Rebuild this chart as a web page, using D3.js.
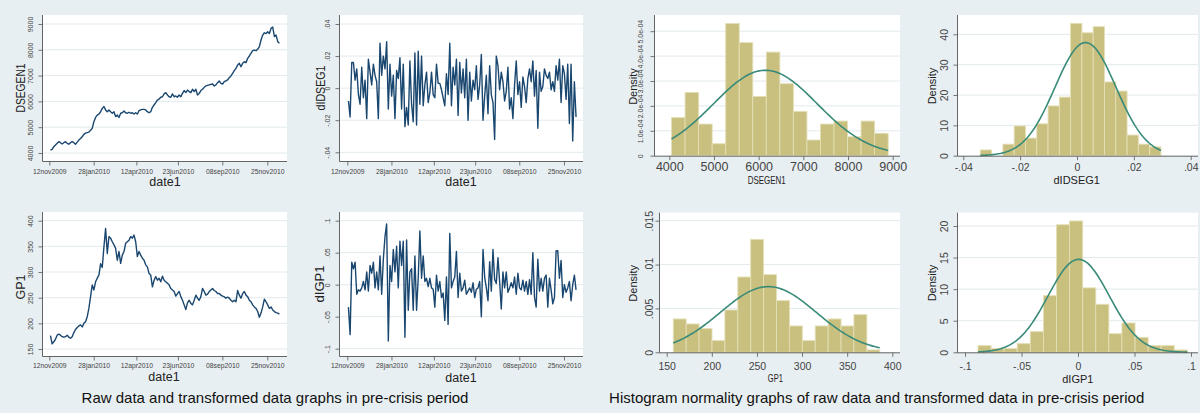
<!DOCTYPE html>
<html><head><meta charset="utf-8">
<script src="https://cdn.jsdelivr.net/npm/d3@7"></script>
<style>
html,body{margin:0;padding:0;background:#e8eff2;}
svg{display:block;font-family:"Liberation Sans",Arial,sans-serif;}
</style></head><body>
<svg id="c" width="1200" height="413"></svg>
<script>
// ---------- DATA ----------
const dateStart = "2009-11-14", dateEnd = "2010-12-16";
const timeTicks = ["2009-11-12","2010-01-28","2010-04-12","2010-06-23","2010-09-08","2010-11-25"];

const dsegen1 = [4116,4140,4245,4310,4375,4440,4400,4350,4400,4440,
4375,4340,4400,4440,4400,4335,4420,4500,4560,4630,
4720,4770,4790,4810,4880,4955,5215,5380,5470,5510,
5600,5730,5800,5670,5600,5670,5600,5540,5600,5410,
5470,5380,5540,5560,5630,5560,5540,5580,5540,5560,
5510,5560,5510,5640,5670,5690,5690,5670,5600,5560,
5600,5770,5860,5950,6050,6090,6160,6180,6290,6340,
6250,6180,6160,6290,6180,6210,6160,6250,6180,6310,
6420,6340,6440,6380,6340,6470,6380,6470,6250,6310,
6420,6470,6545,6600,6620,6640,6660,6675,6600,6640,
6725,6790,6700,6675,6765,6800,6830,6920,6985,7090,
7190,7280,7410,7475,7345,7475,7540,7500,7670,7760,
7860,7965,7990,7965,8020,8120,8380,8570,8660,8630,
8700,8630,8830,8880,8510,8570,8315,8250];

const gp1 = [176,160,164,169,177,179,177,174,173,174,
177,173,171,174,182,188,192,195,197,193,
200,203,213,229,252,275,265,281,288,294,
316,309,349,385,336,369,366,359,353,346,
323,340,317,333,340,356,359,362,369,366,
372,359,330,340,333,327,323,314,310,297,
294,271,284,291,284,288,281,292,284,281,
278,275,268,265,262,253,258,262,252,245,
236,227,240,245,239,236,245,255,249,245,
252,268,262,255,257,262,265,268,264,262,
258,258,255,253,252,249,251,249,245,242,
245,242,264,255,249,258,262,255,252,245,
242,236,232,229,223,212,220,232,247,242,
236,229,232,226,223,221,220,218];

const dIDSEG1 = [-0.008,-0.018,0.016,0.016,0.005,0.012,-0.004,-0.010,0.013,-0.006,
0.005,-0.019,0.018,0.010,0.002,0.015,0.008,0.004,-0.019,0.028,
0.008,0.020,0.012,0.029,-0.013,0.015,-0.005,0.008,-0.019,0.011,
0.006,0.019,-0.013,0.015,-0.024,-0.012,-0.023,0.017,-0.010,-0.021,
0.022,-0.023,0.023,-0.010,0.020,-0.011,0.002,0.010,-0.009,-0.003,
0.010,-0.004,-0.006,0.015,0.003,0.003,-0.001,-0.006,-0.011,0.009,
-0.004,0.028,-0.011,0.013,0.002,0.018,-0.017,0.016,-0.003,0.012,
-0.006,0.018,-0.020,0.010,-0.008,0.005,-0.001,0.014,-0.007,0.002,
0.021,-0.020,-0.005,0.008,-0.016,0.014,-0.004,-0.009,-0.032,0.020,
0.014,-0.001,0.010,0.004,-0.008,-0.002,0.013,-0.013,-0.006,-0.019,
0.002,0.017,-0.004,0.004,-0.012,0.007,0.001,-0.009,0.006,0.012,
0.004,0.017,-0.005,0.011,-0.025,0.010,-0.002,0.001,0.012,0.008,
0.006,0.010,-0.001,0.004,-0.002,0.014,0.005,0.018,-0.009,0.014,
0.009,-0.007,0.015,-0.022,0.015,-0.033,0.004,-0.018];

const dIGP1 = [-0.035,-0.078,0.035,0.025,0.035,-0.015,-0.008,-0.010,-0.005,0.005,
-0.008,0.020,-0.010,0.030,0.018,0.035,-0.005,0.020,-0.008,0.045,
-0.015,0.040,0.075,0.095,-0.088,0.030,0.005,0.055,0.020,0.060,
-0.005,0.068,0.030,0.068,-0.082,0.070,-0.040,0.020,0.025,-0.040,
0.045,-0.040,0.010,0.084,0.010,0.045,0.005,0.010,-0.003,0.010,
-0.005,-0.007,-0.035,0.015,-0.010,0.005,-0.020,-0.013,-0.056,0.012,
-0.062,0.080,-0.005,0.005,0.012,0.052,-0.020,0.018,-0.010,-0.005,
0.007,-0.015,-0.010,-0.005,-0.012,0.003,-0.020,-0.007,-0.005,0.005,
-0.050,0.055,0.012,-0.005,-0.025,0.036,-0.010,0.055,0.008,0.002,
0.042,0.005,-0.038,0.020,-0.005,0.020,-0.012,-0.005,0.003,-0.005,
0.012,-0.015,0.018,-0.005,-0.008,0.007,-0.010,0.005,-0.015,0.008,
-0.015,0.050,-0.020,-0.035,0.040,-0.010,0.010,-0.010,0.010,0.015,
-0.035,0.010,-0.008,-0.030,-0.020,0.053,0.053,0.010,0.038,-0.020,
0.000,-0.012,-0.005,0.005,-0.025,0.000,0.015,-0.008];

// y tick values and labels
const dsegen1Ticks = [4000,5000,6000,7000,8000,9000];
const dsegen1Labels = ["4000","5000","6000","7000","8000","9000"];
const dIDSEG1Ticks = [-0.04,-0.02,0,0.02,0.04];
const dIDSEG1Labels = ["-.04","-.02","0",".02",".04"];
const gp1Ticks = [150,200,250,300,350,400];
const gp1Labels = ["150","200","250","300","350","400"];
const dIGP1Ticks = [-0.1,-0.05,0,0.05,0.1];
const dIGP1Labels = ["-.1","-.05","0",".05",".1"];

// histograms: bin start, bin width, densities
const hDSEGEN1Start = 4050, hDSEGEN1Width = 303;
const hDSEGEN1Dens = [1.53e-4,2.54e-4,1.27e-4,0.48e-4,5.31e-4,4.54e-4,2.38e-4,4.16e-4,2.89e-4,1.78e-4,0.63e-4,1.27e-4,1.39e-4,0.76e-4,1.39e-4,0.90e-4];
const hDSEGEN1Normal = {mean:6150, sd:1163};
const hDSEGEN1YTicks = [0,1e-4,2e-4,3e-4,4e-4,5e-4];
const hDSEGEN1YLabels = ["0","1.0e-04","2.0e-04","3.0e-04","4.0e-04","5.0e-04"];
const hDSEGEN1XTicks = [4000,5000,6000,7000,8000,9000];

const hdIDSEG1Start = -0.034, hdIDSEG1Width = 0.00397;
const hdIDSEG1Dens = [1.9,0,3.8,9.8,5.8,10.5,16.4,19.3,43.6,40.5,42.5,24.3,21.3,6.8,3.8,2.9];
const hdIDSEG1Normal = {mean:0.003, sd:0.0107};
const hdIDSEG1YTicks = [0,10,20,30,40];
const hdIDSEG1XTicks = [-0.04,-0.02,0,0.02,0.04];
const hdIDSEG1XLabels = ["-.04","-.02","0",".02",".04"];

const hGP1Start = 157.3, hGP1Width = 14.3;
const hGP1Dens = [0.0038,0.00323,0.0027,0.00133,0.00482,0.00858,0.01287,0.00885,0.00589,0.003,0.00133,0.003,0.0038,0.003,0.00429,0.00027];
const hGP1Normal = {mean:262.6, sd:53.3};
const hGP1YTicks = [0,0.005,0.01,0.015];
const hGP1YLabels = ["0",".005",".01",".015"];
const hGP1XTicks = [150,200,250,300,350,400];

const hdIGP1Start = -0.0885, hdIGP1Width = 0.01158;
const hdIGP1Dens = [1.05,0.6,0.6,1.37,3.27,8.97,20.2,20.8,10.2,7.6,2.95,4.64,2.37,1.05,1.05,0.37];
const hdIGP1Normal = {mean:0.0006, sd:0.0271};
const hdIGP1YTicks = [0,5,10,15,20];
const hdIGP1XTicks = [-0.1,-0.05,0,0.05,0.1];
const hdIGP1XLabels = ["-.1","-.05","0",".05",".1"];

// ---------- DRAW ----------
const svg = d3.select("#c");
svg.append("rect").attr("width",1200).attr("height",413).attr("fill","#e8eff2");
const parse = d3.utcParse("%Y-%m-%d");
const fmtDate = d3.utcFormat("%d%b%Y");
const AX = "#555", GRID = "#e2eaed";

function rotLabel(g, cx, cy, text, size, len, fill) {
  const t = g.append("text").attr("transform",`translate(${cx},${cy}) rotate(-90)`)
    .attr("text-anchor","middle").attr("dy","0.35em").attr("font-size",size).attr("fill",fill||"#222").text(text);
  if (len) t.attr("textLength",len).attr("lengthAdjust","spacingAndGlyphs");
  return t;
}
function hLabel(g, cx, by, text, size, len, fill) {
  const t = g.append("text").attr("x",cx).attr("y",by).attr("text-anchor","middle")
    .attr("font-size",size).attr("fill",fill||"#222").text(text);
  if (len) t.attr("textLength",len).attr("lengthAdjust","spacingAndGlyphs");
  return t;
}

function frame(g, c, y, yTicks, grid) {
  g.append("rect").attr("x",c.px0).attr("y",c.py0).attr("width",c.px1-c.px0).attr("height",c.py1-c.py0).attr("fill","#fff");
  g.selectAll(null).data(yTicks.filter(d=>grid(d))).join("line")
    .attr("x1",c.px0).attr("x2",c.px1).attr("y1",d=>y(d)).attr("y2",d=>y(d))
    .attr("stroke",GRID).attr("stroke-width",1);
}
function axisLines(g, c) {
  g.append("line").attr("x1",c.px0-0.5).attr("x2",c.px0-0.5).attr("y1",c.py0).attr("y2",c.py1+0.5).attr("stroke",AX).attr("stroke-width",0.9);
  g.append("line").attr("x1",c.px0-0.5).attr("x2",c.px1).attr("y1",c.py1+0.5).attr("y2",c.py1+0.5).attr("stroke",AX).attr("stroke-width",0.9);
}
function yAxis(g, c, y, ticks, labels, labFont) {
  const a = g.append("g").attr("transform",`translate(${c.px0-0.5},0)`).attr("color",AX)
    .call(d3.axisLeft(y).tickValues(ticks).tickFormat((d,i)=>labels[i]).tickSize(4).tickSizeOuter(0));
  a.select(".domain").remove();
  a.selectAll(".tick line").attr("stroke-width",0.8);
  const off = (c.px0-0.5) - c.yLabX;
  a.selectAll(".tick text").attr("x",null).attr("dy",null).attr("y",null)
    .attr("transform",`translate(${-off},0) rotate(-90)`)
    .attr("dy","0.35em").attr("text-anchor","middle")
    .attr("font-size",labFont).attr("fill","#444").attr("font-family",null);
}
function xAxis(g, c, x, ticks, fmt, labFont) {
  const a = g.append("g").attr("transform",`translate(0,${c.py1+0.5})`).attr("color",AX)
    .call(d3.axisBottom(x).tickValues(ticks).tickFormat(fmt).tickSize(4).tickSizeOuter(0));
  a.select(".domain").remove();
  a.selectAll(".tick line").attr("stroke-width",0.8);
  a.selectAll(".tick text").attr("y",c.xLabBase-(c.py1+0.5)).attr("dy",null)
    .attr("font-size",labFont).attr("fill","#444").attr("font-family",null);
}

function drawTS(c) {
  const g = svg.append("g");
  const x = d3.scaleUtc().domain([parse(timeTicks[0]), parse(timeTicks[timeTicks.length-1])]).range(c.xr);
  const y = d3.scaleLinear().domain([c.yTicks[0], c.yTicks[c.yTicks.length-1]]).range(c.yr);
  frame(g, c, y, c.yTicks, ()=>true);
  const t0 = +parse(dateStart), t1 = +parse(dateEnd), n = c.values.length;
  const pts = c.values.map((v,i)=>[new Date(t0+(t1-t0)*i/(n-1)), v]);
  g.append("path").datum(pts).attr("fill","none").attr("stroke","#1a476f").attr("stroke-width",1.4)
    .attr("stroke-linejoin","round")
    .attr("d", d3.line().x(d=>x(d[0])).y(d=>y(d[1])));
  axisLines(g, c);
  yAxis(g, c, y, c.yTicks, c.yLabels, 7);
  xAxis(g, c, x, timeTicks.map(parse), d=>fmtDate(d).toLowerCase(), 6.8);
  rotLabel(g, c.yt.x, c.yt.y, c.yt.text, c.yt.size, c.yt.len);
  hLabel(g, c.xt.x, c.xt.y, "date1", 12.5);
}

function drawHist(c) {
  const g = svg.append("g");
  const x = d3.scaleLinear().domain([c.xTicks[0], c.xTicks[c.xTicks.length-1]]).range(c.xr);
  const y = d3.scaleLinear().domain([c.yTicks[0], c.yTicks[c.yTicks.length-1]]).range(c.yr);
  frame(g, c, y, c.yTicks, d=>d!==0);
  g.selectAll(null).data(c.dens).join("rect")
    .attr("x",(d,i)=>x(c.start+i*c.width))
    .attr("width",(d,i)=>x(c.start+(i+1)*c.width)-x(c.start+i*c.width))
    .attr("y",d=>y(d)).attr("height",d=>y(0)-y(d))
    .attr("fill","#c9bf7e").attr("stroke","#e4dfb6").attr("stroke-width",0.9);
  const lo = c.start, hi = c.start + c.dens.length*c.width;
  const pdf = v => Math.exp(-0.5*((v-c.normal.mean)/c.normal.sd)**2)/(c.normal.sd*Math.sqrt(2*Math.PI));
  const xs = d3.range(0,121).map(k=>lo+(hi-lo)*k/120);
  g.append("path").datum(xs).attr("fill","none").attr("stroke","#3a8b7a").attr("stroke-width",1.6)
    .attr("d", d3.line().x(v=>x(v)).y(v=>y(pdf(v))));
  axisLines(g, c);
  yAxis(g, c, y, c.yTicks, c.yLabels, c.yLabFont);
  xAxis(g, c, x, c.xTicks, (d,i)=>c.xLabels[i], c.xLabFont);
  rotLabel(g, c.dt.x, c.dt.y, "Density", 11);
  hLabel(g, c.xt.x, c.xt.y, c.xt.text, c.xt.size, c.xt.len);
}

drawTS({px0:43,px1:287,py0:15,py1:161,xr:[49.3,267.3],yr:[153,24],yTicks:dsegen1Ticks,yLabels:dsegen1Labels,values:dsegen1,
  yLabX:30.7,xLabBase:173.5,yt:{x:20,y:88,text:"DSEGEN1",size:13.5,len:49},xt:{x:165,y:186}});
drawTS({px0:340,px1:583,py0:15,py1:161,xr:[347.3,564],yr:[152.3,24],yTicks:dIDSEG1Ticks,yLabels:dIDSEG1Labels,values:dIDSEG1,
  yLabX:327.3,xLabBase:173.5,yt:{x:320,y:88,text:"dIDSEG1",size:13,len:45},xt:{x:461,y:186}});
drawTS({px0:43,px1:287,py0:212,py1:356,xr:[49.3,267.3],yr:[349,220.7],yTicks:gp1Ticks,yLabels:gp1Labels,values:gp1,
  yLabX:30.7,xLabBase:368.3,yt:{x:20,y:287,text:"GP1",size:13.5,len:25},xt:{x:164,y:381}});
drawTS({px0:340,px1:583,py0:212,py1:356,xr:[347.3,564],yr:[348.7,220.7],yTicks:dIGP1Ticks,yLabels:dIGP1Labels,values:dIGP1,
  yLabX:327.3,xLabBase:368.3,yt:{x:319.5,y:284,text:"dIGP1",size:13,len:37},xt:{x:461,y:381.5}});

drawHist({px0:655,px1:900,py0:15,py1:155.7,xr:[669.3,892.7],yr:[155.7,31.2],
  xTicks:hDSEGEN1XTicks,xLabels:hDSEGEN1XTicks.map(String),yTicks:hDSEGEN1YTicks,yLabels:hDSEGEN1YLabels,
  start:hDSEGEN1Start,width:hDSEGEN1Width,dens:hDSEGEN1Dens,normal:hDSEGEN1Normal,
  yLabX:640.5,yLabFont:7,xLabBase:170.7,xLabFont:12.5,dt:{x:633.3,y:86.5},xt:{x:766.7,y:184,text:"DSEGEN1",size:11,len:38}});
drawHist({px0:958,px1:1198,py0:15,py1:155.7,xr:[963.3,1190.7],yr:[155.7,34.3],
  xTicks:hdIDSEG1XTicks,xLabels:hdIDSEG1XLabels,yTicks:hdIDSEG1YTicks,yLabels:hdIDSEG1YTicks.map(String),
  start:hdIDSEG1Start,width:hdIDSEG1Width,dens:hdIDSEG1Dens,normal:hdIDSEG1Normal,
  yLabX:944,yLabFont:10.5,xLabBase:171.5,xLabFont:10.5,dt:{x:931.7,y:86},xt:{x:1076.7,y:184.3,text:"dIDSEG1",size:11}});
drawHist({px0:660,px1:900,py0:212.7,py1:352.3,xr:[666.7,892.3],yr:[352.3,220.7],
  xTicks:hGP1XTicks,xLabels:hGP1XTicks.map(String),yTicks:hGP1YTicks,yLabels:hGP1YLabels,
  start:hGP1Start,width:hGP1Width,dens:hGP1Dens,normal:hGP1Normal,
  yLabX:649.3,yLabFont:10.5,xLabBase:370,xLabFont:10.5,dt:{x:633.3,y:283.3},xt:{x:775.3,y:381.7,text:"GP1",size:10.5,len:15}});
drawHist({px0:958,px1:1198,py0:212.7,py1:352.3,xr:[965,1191],yr:[352.3,226],
  xTicks:hdIGP1XTicks,xLabels:hdIGP1XLabels,yTicks:hdIGP1YTicks,yLabels:hdIGP1YTicks.map(String),
  start:hdIGP1Start,width:hdIGP1Width,dens:hdIGP1Dens,normal:hdIGP1Normal,
  yLabX:944,yLabFont:10.5,xLabBase:370,xLabFont:10.5,dt:{x:931.7,y:283},xt:{x:1077.8,y:382.5,text:"dIGP1",size:11}});

hLabel(svg, 275, 403, "Raw data and transformed data graphs in pre-crisis period", 15, null, "#111");
hLabel(svg, 876.7, 402.7, "Histogram normality graphs of raw data and transformed data in pre-crisis period", 15, null, "#111");
</script>
</body></html>
